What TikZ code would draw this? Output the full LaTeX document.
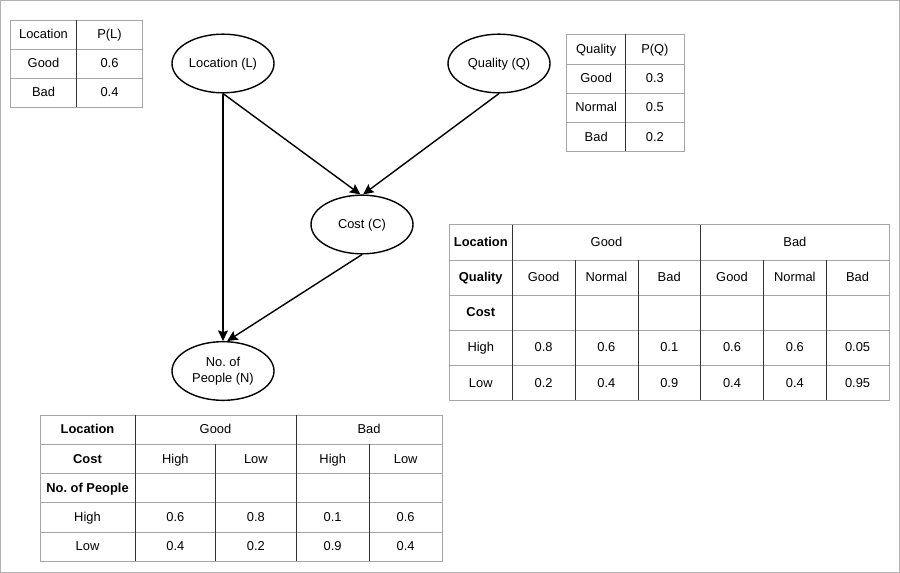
\documentclass[tikz,border=0pt]{standalone}
\usepackage{fontspec}
\setmainfont{Liberation Sans}
\usetikzlibrary{arrows.meta, shapes.geometric}
\frenchspacing
\tikzstyle{arrow}  = [line width=1.2pt, -{Stealth[length=9pt,width=8.5pt,inset=1.5pt]}]
\tikzstyle{vertex} = [draw, line width=1.2pt, ellipse, minimum width=3.06cm, minimum height=1.76cm, inner sep=0pt, align=center]

\begin{document}
\begin{tikzpicture}[
        x=0.03cm, y=-0.03cm,
        every node/.style={font=\fontsize{11}{13.6}\selectfont},
        cell/.style={inner sep=0pt, text height=0.72em, text depth=0pt},
        hcell/.style={cell, font=\fontsize{11}{13.6}\selectfont\bfseries},
        tline/.style={gray!70, line width=0.7pt},
        vline/.style={black!80, line width=0.7pt}
    ]

        \useasboundingbox (0,0) rectangle (900,573);
        \draw[gray!60, line width=0.8pt] (0.5,0.5) rectangle (899.5,572.5);

        % network
        \node[vertex, text height=0.72em, text depth=0pt] (L) at (223,63.5) {Location (L)};
        \node[vertex, text height=0.72em, text depth=0pt] (Q) at (499,63.5) {Quality (Q)};
        \node[vertex, text height=0.72em, text depth=0pt] (C) at (362,224.5) {Cost (C)};
        \node[vertex] (N) at (223,371) {No. of\\People (N)};

        \draw[arrow] (L.south) -- (N.north);
        \draw[arrow] (L.south) -- (C.93);
        \draw[arrow] (Q.south) -- (C.88);
        \draw[arrow] (C.south) -- (N.82);

        % P(L)
        \draw[tline] (10.5,20) rectangle (142.5,107);
        \foreach \y in {49.3,78.3} \draw[tline] (10.5,\y) -- (142.5,\y);
        \draw[vline] (76.5,20) -- (76.5,107);
        \foreach \a/\b [count=\r from 0] in {Location/{P(L)}, Good/0.6, Bad/0.4} {
            \node[cell] (pl-\r-a) at (43.5,34.6+29*\r) {\a};
            \node[cell] (pl-\r-b) at (109.5,34.6+29*\r) {\b};
        }

        % P(Q)
        \draw[tline] (566.7,34.3) rectangle (684,151);
        \foreach \y in {64,93.3,122.7} \draw[tline] (566.7,\y) -- (684,\y);
        \draw[vline] (625.7,34.3) -- (625.7,151);
        \foreach \a/\b [count=\r from 0] in {Quality/{P(Q)}, Good/0.3, Normal/0.5, Bad/0.2} {
            \node[cell] (pq-\r-a) at (596.2,49.2+29.2*\r) {\a};
            \node[cell] (pq-\r-b) at (654.9,49.2+29.2*\r) {\b};
        }

        % P(C | L, Q)
        \draw[tline] (449.3,224.7) rectangle (889,400.3);
        \foreach \y in {260,295.3,330.3,365.3} \draw[tline] (449.3,\y) -- (889,\y);
        \foreach \x in {512.3,700.7} \draw[vline] (\x,224.7) -- (\x,400.3);
        \foreach \x in {575.3,638.3,763.3,826.7} \draw[vline] (\x,260) -- (\x,400.3);

        \node[hcell] (pc-loc) at (480.8,242.3) {Location};
        \node[cell] (pc-good) at (606.5,242.3) {Good};
        \node[cell] (pc-bad) at (794.9,242.3) {Bad};
        \node[hcell] (pc-q) at (480.8,277.4) {Quality};
        \node[hcell] (pc-c) at (480.8,312.6) {Cost};
        \foreach \t [count=\c from 1] in {Good,Normal,Bad,Good,Normal,Bad}
            \node[cell] (pc-q-\c) at (480.8+62.8*\c,277.4) {\t};
        \foreach \t [count=\c from 0] in {High,0.8,0.6,0.1,0.6,0.6,0.05}
            \node[cell] (pc-h-\c) at (480.8+62.8*\c,347.7) {\t};
        \foreach \t [count=\c from 0] in {Low,0.2,0.4,0.9,0.4,0.4,0.95}
            \node[cell] (pc-l-\c) at (480.8+62.8*\c,382.8) {\t};

        % P(N | L, C)
        \draw[tline] (40,415) rectangle (442,561);
        \foreach \y in {444.3,473.3,502.3,532} \draw[tline] (40,\y) -- (442,\y);
        \foreach \x in {135,296} \draw[vline] (\x,415) -- (\x,561);
        \foreach \x in {215.7,369.3} \draw[vline] (\x,444.3) -- (\x,561);

        \node[hcell] (pn-loc) at (87.5,429.6) {Location};
        \node[cell] (pn-good) at (215.5,429.6) {Good};
        \node[cell] (pn-bad) at (369,429.6) {Bad};
        \node[hcell] (pn-c) at (87.5,458.8) {Cost};
        \node[hcell] (pn-n) at (87.5,487.8) {No. of People};
        \foreach \x/\t [count=\c] in {175.4/High, 255.9/Low, 332.7/High, 405.7/Low}
            \node[cell] (pn-c-\c) at (\x,458.8) {\t};
        \foreach \x/\t [count=\c] in {87.5/High, 175.4/0.6, 255.9/0.8, 332.7/0.1, 405.7/0.6}
            \node[cell] (pn-h-\c) at (\x,517.2) {\t};
        \foreach \x/\t [count=\c] in {87.5/Low, 175.4/0.4, 255.9/0.2, 332.7/0.9, 405.7/0.4}
            \node[cell] (pn-l-\c) at (\x,546.5) {\t};

    \end{tikzpicture}
\end{document}
